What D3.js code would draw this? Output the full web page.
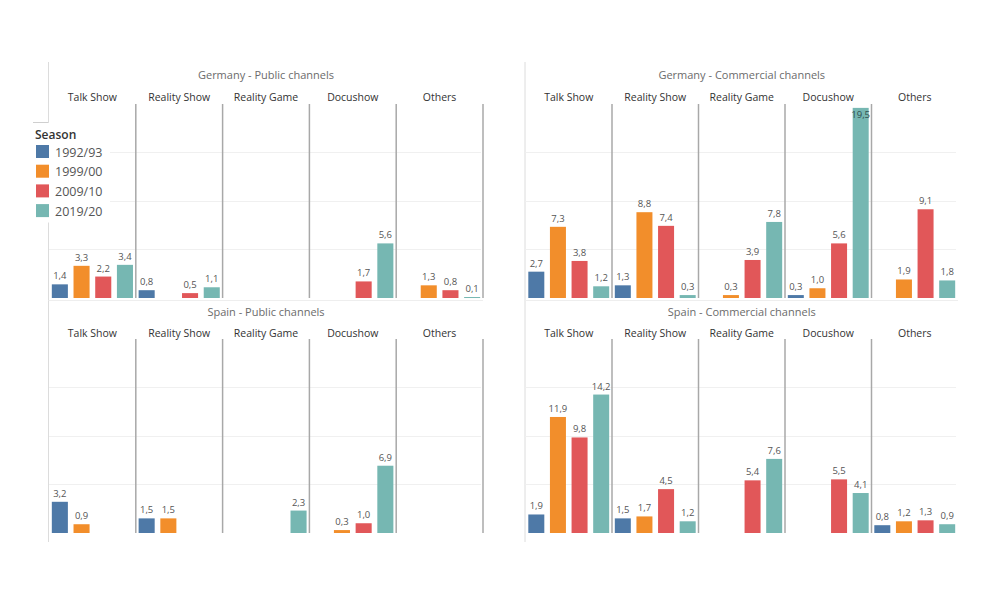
<!DOCTYPE html>
<html>
<head>
<meta charset="utf-8">
<script src="https://cdn.jsdelivr.net/npm/d3@7"></script>
<style>
  html, body { margin: 0; padding: 0; background: #fff; }
  svg { display: block; font-family: "Open Sans", "Noto Sans", sans-serif; }
</style>
</head>
<body>
<svg id="chart" width="1000" height="600"></svg>
<script>
// ---------- DATA ----------
const seasons = ["1992/93", "1999/00", "2009/10", "2019/20"];
const genres = ["Talk Show", "Reality Show", "Reality Game", "Docushow", "Others"];
const panelTitles = ["Germany - Public channels", "Germany - Commercial channels",
                     "Spain - Public channels", "Spain - Commercial channels"];
const yTicks = [5, 10, 15];

// values per genre, in season order (null = no bar)
const germanyPublic = [
  [1.4, 3.3, 2.2, 3.4],
  [0.8, null, 0.5, 1.1],
  [null, null, null, null],
  [null, null, 1.7, 5.6],
  [null, 1.3, 0.8, 0.1]
];
const germanyCommercial = [
  [2.7, 7.3, 3.8, 1.2],
  [1.3, 8.8, 7.4, 0.3],
  [null, 0.3, 3.9, 7.8],
  [0.3, 1.0, 5.6, 19.5],
  [null, 1.9, 9.1, 1.8]
];
const spainPublic = [
  [3.2, 0.9, null, null],
  [1.5, 1.5, null, null],
  [null, null, null, 2.3],
  [null, 0.3, 1.0, 6.9],
  [null, null, null, null]
];
const spainCommercial = [
  [1.9, 11.9, 9.8, 14.2],
  [1.5, 1.7, 4.5, 1.2],
  [null, null, 5.4, 7.6],
  [null, null, 5.5, 4.1],
  [0.8, 1.2, 1.3, 0.9]
];

// ---------- LAYOUT ----------
const colors = d3.scaleOrdinal().domain(seasons)
  .range(["#4e79a7", "#f28e2b", "#e15759", "#76b7b2"]);
const fmt = d3.formatLocale({decimal: ",", thousands: ".", grouping: [3], currency: ["", "€"]}).format(".1f");

const panels = [
  {title: panelTitles[0], data: germanyPublic, x0: 49, x1: 483, row: 0, rightDivider: true},
  {title: panelTitles[1], data: germanyCommercial, x0: 525.5, x1: 958, row: 0, rightDivider: false},
  {title: panelTitles[2], data: spainPublic, x0: 49, x1: 483, row: 1, rightDivider: true},
  {title: panelTitles[3], data: spainCommercial, x0: 525.5, x1: 958, row: 1, rightDivider: false}
];
const rows = [
  {base: 298, top: 103, title: 79, header: 101, frameTop: 62, frameBottom: 302, bottomLine: true},
  {base: 533, top: 338, title: 316, header: 337, frameTop: 302, frameBottom: 542, bottomLine: false}
];

const svg = d3.select("#chart");

panels.forEach((p) => {
  const r = rows[p.row];
  const g = svg.append("g");
  const y = d3.scaleLinear().domain([0, 20]).range([r.base, r.top]);
  const xOuter = d3.scaleBand().domain(genres).range([p.x0, p.x1]);
  const xInner = d3.scaleBand().domain(seasons).range([0, xOuter.bandwidth()])
    .paddingInner(0.26).paddingOuter(0.13);

  // panel frame (left border)
  g.append("line")
    .attr("x1", p.x0 - 0.5).attr("x2", p.x0 - 0.5)
    .attr("y1", r.frameTop).attr("y2", r.frameBottom)
    .attr("stroke", "#dcdcdc").attr("stroke-width", 1);
  if (r.bottomLine) {
    g.append("line")
      .attr("x1", p.x0 - 0.5).attr("x2", p.x1)
      .attr("y1", r.base + 2.5).attr("y2", r.base + 2.5)
      .attr("stroke", "#eeeeee").attr("stroke-width", 1);
  }

  // gridlines
  g.selectAll(".grid").data(yTicks).join("line")
    .attr("x1", p.x0).attr("x2", p.x1 - 2)
    .attr("y1", d => Math.round(y(d)) + 0.5).attr("y2", d => Math.round(y(d)) + 0.5)
    .attr("stroke", "#f0f0f0").attr("stroke-width", 1);

  // dividers
  const divs = genres.slice(1).map(gn => xOuter(gn));
  if (p.rightDivider) divs.push(p.x1);
  g.selectAll(".div").data(divs).join("line")
    .attr("x1", d => d).attr("x2", d => d)
    .attr("y1", r.top + 1).attr("y2", r.base)
    .attr("stroke", "#a8a8a8").attr("stroke-width", 1.5);

  // panel title
  g.append("text")
    .attr("x", (p.x0 + p.x1) / 2).attr("y", r.title)
    .attr("text-anchor", "middle")
    .attr("font-size", 11).attr("fill", "#6b6b6b")
    .text(p.title);

  // genre headers
  g.selectAll(".hdr").data(genres).join("text")
    .attr("x", d => xOuter(d) + xOuter.bandwidth() / 2)
    .attr("y", r.header)
    .attr("text-anchor", "middle")
    .attr("font-size", 10.5).attr("fill", "#333")
    .text(d => d);

  // bars
  genres.forEach((gn, gi) => {
    const vals = p.data[gi].map((v, si) => ({season: seasons[si], v}))
      .filter(d => d.v !== null);
    const gg = g.append("g").attr("transform", `translate(${xOuter(gn)},0)`);
    gg.selectAll("rect").data(vals).join("rect")
      .attr("x", d => xInner(d.season))
      .attr("width", xInner.bandwidth())
      .attr("y", d => y(d.v))
      .attr("height", d => Math.max(1, r.base - y(d.v)))
      .attr("fill", d => colors(d.season));
    gg.selectAll("text").data(vals).join("text")
      .attr("x", d => xInner(d.season) + xInner.bandwidth() / 2)
      .attr("y", d => Math.max(y(d.v) - 5, r.top + 15))
      .attr("text-anchor", "middle")
      .attr("font-size", 9.5)
      .attr("fill", d => (y(d.v) - 5 < r.top + 15) ? "#2f4f4f" : "#555")
      .text(d => fmt(d.v));
  });
});

// ---------- LEGEND ----------
const lg = svg.append("g");
lg.append("rect").attr("x", 28).attr("y", 122.5).attr("width", 82).attr("height", 100)
  .attr("fill", "#fff");
lg.append("line").attr("x1", 33).attr("x2", 48.5).attr("y1", 122.5).attr("y2", 122.5)
  .attr("stroke", "#cfcfcf");
lg.append("text").attr("x", 35).attr("y", 139)
  .attr("font-size", 12).attr("font-weight", 600).attr("fill", "#333").text("Season");
const li = lg.selectAll(".li").data(seasons).join("g")
  .attr("transform", (d, i) => `translate(36, ${145 + i * 19.7})`);
li.append("rect").attr("width", 13).attr("height", 13).attr("fill", d => colors(d));
li.append("text").attr("x", 19).attr("y", 11.5)
  .attr("font-size", 12.5).attr("fill", "#555").text(d => d);
</script>
</body>
</html>
